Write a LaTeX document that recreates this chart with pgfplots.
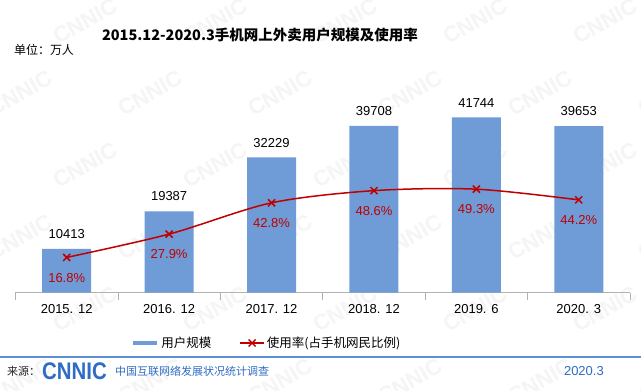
\documentclass[border=0pt]{standalone}
\usepackage{pgfplots}
\pgfplotsset{compat=1.18}
\usepackage{fontspec}
\setmainfont{Liberation Sans}
\newfontfamily\cjk{Noto Sans CJK SC}
\definecolor{barblue}{HTML}{6F9BD6}
\definecolor{linered}{HTML}{C00000}
\definecolor{footblue}{HTML}{5B8FD6}
\definecolor{logoblue}{HTML}{2F6CC4}
\begin{document}
\begin{tikzpicture}[x=1pt,y=1pt]
\useasboundingbox (0,0) rectangle (641,391);
\fill[white] (0,0) rectangle (641,391);
\foreach \r in {0,...,5}{
  \foreach \c in {0,...,5}{
    \node[rotate=30, text=gray!8, font=\fontsize{22}{22}\selectfont\bfseries] at ({\c*130 + mod(\r,2)*65 + 20}, {\r*72 + 10}) {CNNIC};
  }
}
\begin{axis}[
  at={(15.5pt,98.3pt)}, anchor=south west, scale only axis,
  width=614.5pt, height=210pt,
  xmin=-0.5, xmax=5.5, ymin=0, ymax=50000,
  axis y line=none, axis x line=bottom,
  x axis line style={-, draw=gray!60, line width=0.8pt},
  xtick={0,...,5},
  xticklabels={2015. 12,2016. 12,2017. 12,2018. 12,2019. 6,2020. 3},
  major tick length=0pt,
  minor xtick={-0.5,0.5,1.5,2.5,3.5,4.5,5.5},
  minor tick length=7pt, tick align=inside,
  minor tick style={draw=gray!60, line width=0.8pt},
  xticklabel style={font=\fontsize{13}{13}\selectfont, yshift=-8pt},
  /pgf/number format/.cd, 1000 sep={}, assume math mode=true, /pgfplots/.cd,
  ybar, bar width=49pt,
  nodes near coords,
  nodes near coords style={font=\fontsize{13}{13}\selectfont, anchor=south, inner sep=0pt, yshift=10pt, text=black},
  clip=false,
]
\addplot[fill=barblue, draw=none] coordinates {(0,10413)(1,19387)(2,32229)(3,39708)(4,41744)(5,39653)};
\end{axis}
\begin{axis}[
  at={(15.5pt,98.3pt)}, anchor=south west, scale only axis,
  width=614.5pt, height=210pt,
  xmin=-0.5, xmax=5.5, ymin=0, ymax=100,
  hide axis, clip=false,
  /pgf/number format/assume math mode=true,
  legend style={at={(0.409,-0.2395)}, anchor=center, draw=none, fill=none,
    legend columns=2, font=\cjk\fontsize{12.5}{12.5}\selectfont,
    /tikz/every even column/.append style={column sep=26pt}},
  legend cell align=left,
  legend image code/.code={\draw[mark repeat=2,mark phase=2,#1] plot coordinates {(0pt,0pt) (12pt,0pt) (24pt,0pt)};},
]
\addlegendimage{line width=4pt, barblue}
\addlegendentry{用户规模}
\addplot[linered, line width=1.5pt, smooth, mark=x, mark size=5pt, mark options={line width=1.5pt},
  nodes near coords={\pgfmathprintnumber[fixed,fixed zerofill,precision=1]{\pgfplotspointmeta}\%},
  nodes near coords style={anchor=north, yshift=-15pt, inner sep=0pt, font=\fontsize{13}{13}\selectfont, text=linered}]
  coordinates {(0,16.8)(1,27.9)(2,42.8)(3,48.6)(4,49.3)(5,44.2)};
\addlegendentry{使用率(占手机网民比例)}
\end{axis}
\node[font=\cjk\bfseries\fontsize{14.5}{14.5}\selectfont] at (260,356) {2015.12-2020.3手机网上外卖用户规模及使用率};
\node[font=\cjk\fontsize{12}{12}\selectfont] at (44,341) {单位：万人};
\draw[footblue, line width=1.5pt] (0,34) -- (641,34);
\node[anchor=west, inner sep=0pt, font=\cjk\fontsize{11}{11}\selectfont, text=black!85] at (7,20) {来源：};
\node[anchor=west, inner sep=0pt, text=logoblue, font=\fontsize{24}{24}\selectfont\bfseries, xscale=0.85] at (42,20) {CNNIC};
\node[anchor=west, inner sep=0pt, font=\cjk\fontsize{11}{11}\selectfont, text=logoblue] at (115,20) {中国互联网络发展状况统计调查};
\node[anchor=east, inner sep=0pt, font=\fontsize{13}{13}\selectfont, text=logoblue] at (604,20) {2020.3};
\end{tikzpicture}
\end{document}
